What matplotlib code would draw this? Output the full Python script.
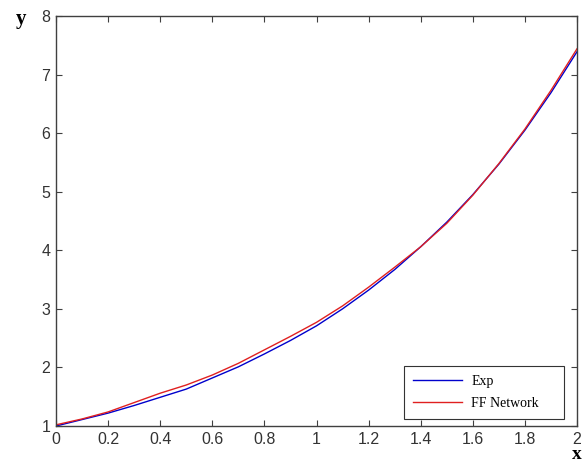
import matplotlib
matplotlib.use("Agg")
import matplotlib.pyplot as plt

x_vals = [0.0, 0.1, 0.2, 0.3, 0.4, 0.5, 0.6, 0.7, 0.8, 0.9, 1.0,
          1.1, 1.2, 1.3, 1.4, 1.5, 1.6, 1.7, 1.8, 1.9, 2.0]
exp_vals = [1.00, 1.11, 1.22, 1.35, 1.49, 1.63, 1.82, 2.01, 2.23, 2.46, 2.71,
            3.00, 3.32, 3.67, 4.06, 4.48, 4.95, 5.47, 6.05, 6.69, 7.39]
ff_vals = [1.02, 1.12, 1.24, 1.40, 1.56, 1.70, 1.87, 2.07, 2.30, 2.53, 2.77,
           3.05, 3.37, 3.71, 4.06, 4.46, 4.94, 5.48, 6.07, 6.73, 7.44]
x_ticks = [0, 0.2, 0.4, 0.6, 0.8, 1, 1.2, 1.4, 1.6, 1.8, 2]
x_ticklabels = ["0", "0.2", "0.4", "0.6", "0.8", "1", "1.2", "1.4", "1.6", "1.8", "2"]
y_ticks = [1, 2, 3, 4, 5, 6, 7, 8]

fig = plt.figure(figsize=(5.88, 4.62), dpi=100)
ax = fig.add_axes([56/588, 36/462, 521/588, 410/462])

ax.plot(x_vals, exp_vals, color="#0000cc", lw=1.0, label="Exp")
ax.plot(x_vals, ff_vals, color="#e02020", lw=1.0, label="FF Network")

ax.set_xlim(0, 2)
ax.set_ylim(1, 8)
ax.set_xticks(x_ticks)
ax.set_xticklabels(x_ticklabels)
ax.set_yticks(y_ticks)

for s in ax.spines.values():
    s.set_color("#404040")
    s.set_linewidth(1.0)
ax.tick_params(direction="in", length=4, width=0.8, color="#404040",
               top=True, right=True, labelsize=11.5, labelcolor="#333333")
ax.tick_params(axis="x", pad=4)
ax.tick_params(axis="y", pad=4)
for lab in ax.get_xticklabels() + ax.get_yticklabels():
    lab.set_family("Liberation Sans")

fig.text(21/588, 1 - 24/462, "y", fontsize=15, fontweight="bold",
         family="Liberation Serif", ha="center", va="baseline")
fig.text(577/588, 1 - 459/462, "x", fontsize=14, fontweight="bold",
         family="Liberation Serif", ha="center", va="baseline")

leg = ax.legend(loc="lower left", bbox_to_anchor=(404/588, 43/462, 160/588, 55/462),
                bbox_transform=fig.transFigure, mode="expand",
                prop={"family": "Liberation Serif", "size": 10},
                fancybox=False, edgecolor="#333333", framealpha=1,
                handlelength=3.5, borderpad=0.65, labelspacing=0.65,
                handletextpad=0.7, borderaxespad=0)
leg.get_frame().set_linewidth(0.8)

fig.savefig("out.png", dpi=100)
